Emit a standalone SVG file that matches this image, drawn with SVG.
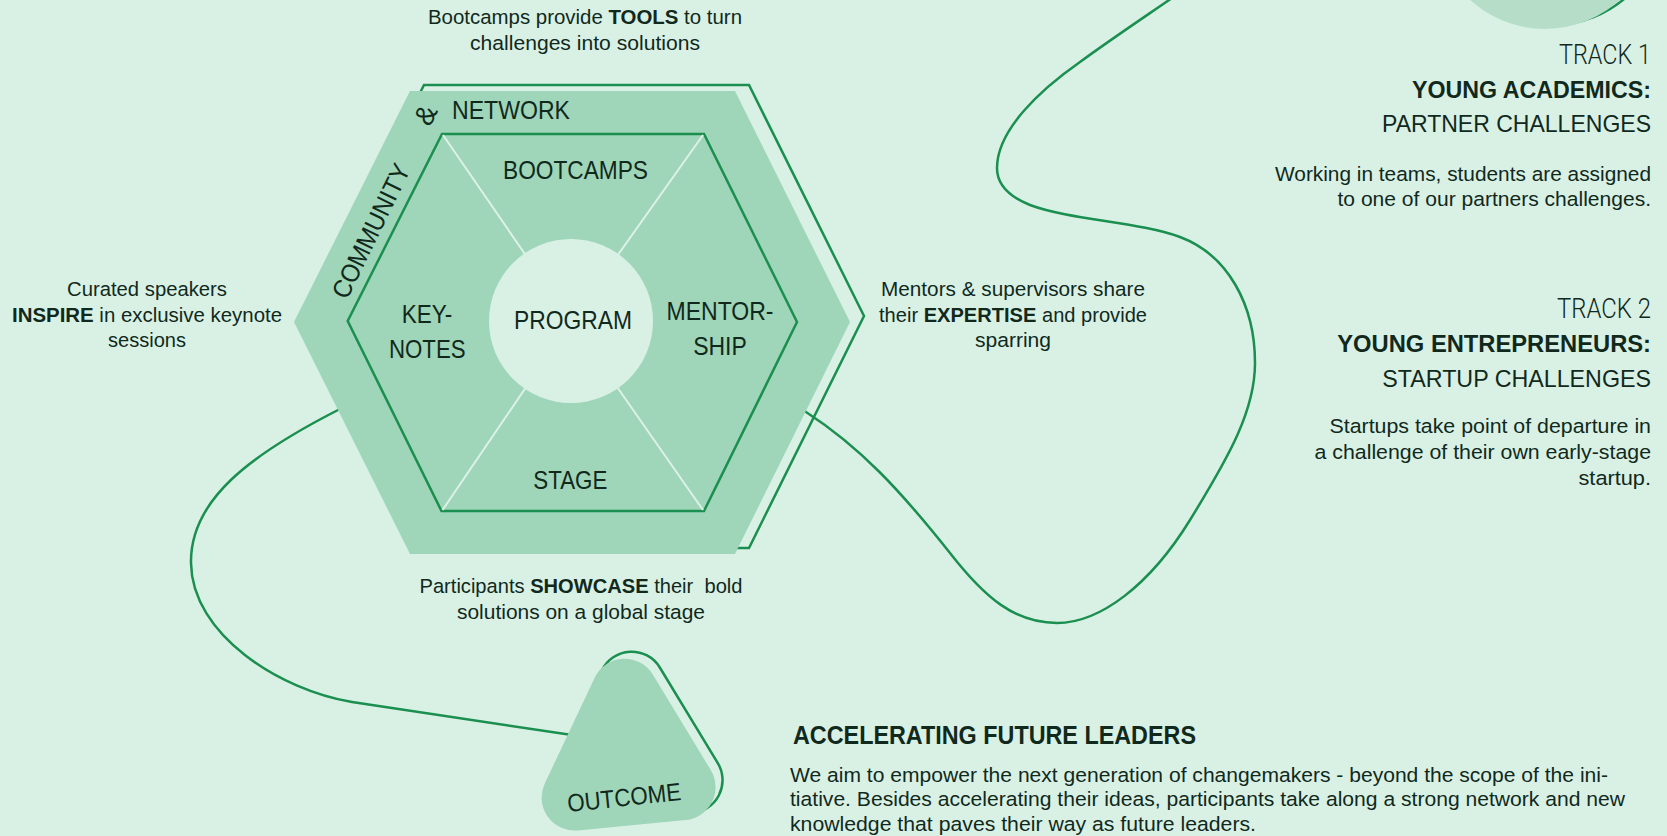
<svg xmlns="http://www.w3.org/2000/svg" width="1667" height="836" viewBox="0 0 1667 836">
<style>
.t{font-family:"Liberation Sans",Arial,sans-serif;fill:#10291c}
.s{font-size:20.5px}
.h{font-size:26px}
.k{font-size:24px}
.bd{font-weight:700}
.lt{font-family:Roboto,"Liberation Sans",Arial,sans-serif;font-weight:300}
.line{fill:none;stroke:#1a8f4f;stroke-width:2.5}
.fillg{fill:#9fd5b8}
.spoke{stroke:#dcf2e6;stroke-width:2}
</style>
<rect x="0" y="0" width="1667" height="836" fill="#d9f1e5"/>

<g id="connectors">
<path class="line" d="M346,405 L338,410 C250,455 190,500 191,563 C192,635 280,690 352,702 L572,735"/>
<path class="line" d="M794,402 L806,412 C860,447 900,490 950,553 C985,598 1015,623 1057,623 C1100,623 1150,585 1190,520 C1230,455 1255,410 1255,363 C1255,305 1228,255 1180,237 C1140,222 1070,220 1030,205 C1005,195 997,182 997,168 C997,130 1040,90 1080,62 C1110,40 1140,20 1172,-2"/>
</g>

<g id="track-circle">
<circle class="line" cx="1552" cy="-88" r="113"/>
<circle cx="1545" cy="-82" r="111" fill="#b5ddc8"/>
</g>

<g id="hexagon-community">
<polygon class="line" points="424,85 749,85 864,316 749,548 424,548 308,316"/>
<polygon class="fillg" points="410,91 735,91 850,322 735,554 410,554 294,322"/>
<text class="t h" text-anchor="middle" transform="translate(379,235) rotate(-64)" textLength="146" lengthAdjust="spacingAndGlyphs">COMMUNITY</text>
<text class="t" font-size="28" text-anchor="middle" transform="translate(434,119) rotate(-64)">&amp;</text>
<text class="t h" x="511" y="119.3" text-anchor="middle" textLength="118" lengthAdjust="spacingAndGlyphs">NETWORK</text>
</g>

<g id="hexagon-program">
<polygon class="fillg" points="442,134 704,134 797,322 704,511 441.5,511 347.7,321" stroke="#1a8f4f" stroke-width="2.5"/>
<line class="spoke" x1="443" y1="135" x2="571" y2="321"/>
<line class="spoke" x1="703" y1="135" x2="571" y2="321"/>
<line class="spoke" x1="442.5" y1="510" x2="571" y2="321"/>
<line class="spoke" x1="703" y1="510" x2="571" y2="321"/>
<text class="t h" x="575.5" y="179.3" text-anchor="middle" textLength="145" lengthAdjust="spacingAndGlyphs">BOOTCAMPS</text>
<text class="t h" x="427" y="323.3" text-anchor="middle" textLength="50.5" lengthAdjust="spacingAndGlyphs">KEY-</text>
<text class="t h" x="427.3" y="358.3" text-anchor="middle" textLength="76.6" lengthAdjust="spacingAndGlyphs">NOTES</text>
<text class="t h" x="720" y="320" text-anchor="middle" textLength="107" lengthAdjust="spacingAndGlyphs">MENTOR-</text>
<text class="t h" x="720" y="355" text-anchor="middle" textLength="53.6" lengthAdjust="spacingAndGlyphs">SHIP</text>
<text class="t h" x="570.3" y="489" text-anchor="middle" textLength="74" lengthAdjust="spacingAndGlyphs">STAGE</text>
</g>

<g id="program-core">
<circle cx="571" cy="321" r="82" fill="#d9f1e5"/>
<text class="t h" x="573" y="329.3" text-anchor="middle" textLength="118" lengthAdjust="spacingAndGlyphs">PROGRAM</text>
</g>

<g id="outcome">
<path class="line" transform="translate(7,-7)" d="M652.8,674.5 L710.8,770.1 A33,33 0 0 1 685.7,820 L577.8,830.4 A33,33 0 0 1 544.8,783.4 L594.8,677.5 A33,33 0 0 1 652.8,674.5 Z"/>
<path class="fillg" d="M652.8,674.5 L710.8,770.1 A33,33 0 0 1 685.7,820 L577.8,830.4 A33,33 0 0 1 544.8,783.4 L594.8,677.5 A33,33 0 0 1 652.8,674.5 Z"/>
<text class="t" font-size="25" text-anchor="middle" transform="translate(625,806) rotate(-6)" textLength="114" lengthAdjust="spacingAndGlyphs">OUTCOME</text>
</g>

<g id="label-tools">
<text class="t s" x="585" y="24" text-anchor="middle" textLength="314" lengthAdjust="spacingAndGlyphs">Bootcamps provide <tspan class="bd">TOOLS</tspan> to turn</text>
<text class="t s" x="585" y="49.5" text-anchor="middle" textLength="230" lengthAdjust="spacingAndGlyphs">challenges into solutions</text>
</g>

<g id="label-inspire">
<text class="t s" x="147" y="296" text-anchor="middle" textLength="160" lengthAdjust="spacingAndGlyphs">Curated speakers</text>
<text class="t s" x="147" y="321.5" text-anchor="middle" textLength="270" lengthAdjust="spacingAndGlyphs"><tspan class="bd">INSPIRE</tspan> in exclusive keynote</text>
<text class="t s" x="147" y="347" text-anchor="middle" textLength="78" lengthAdjust="spacingAndGlyphs">sessions</text>
</g>

<g id="label-expertise">
<text class="t s" x="1013" y="296" text-anchor="middle" textLength="264" lengthAdjust="spacingAndGlyphs">Mentors &amp; supervisors share</text>
<text class="t s" x="1013" y="321.5" text-anchor="middle" textLength="268" lengthAdjust="spacingAndGlyphs">their <tspan class="bd">EXPERTISE</tspan> and provide</text>
<text class="t s" x="1013" y="347" text-anchor="middle" textLength="76" lengthAdjust="spacingAndGlyphs">sparring</text>
</g>

<g id="label-showcase">
<text class="t s" x="581" y="593" text-anchor="middle" textLength="323" lengthAdjust="spacingAndGlyphs" xml:space="preserve">Participants <tspan class="bd">SHOWCASE</tspan> their  bold</text>
<text class="t s" x="581" y="619" text-anchor="middle" textLength="248" lengthAdjust="spacingAndGlyphs">solutions on a global stage</text>
</g>

<g id="track1">
<text class="t lt" font-size="28" x="1651" y="64" text-anchor="end" textLength="92" lengthAdjust="spacingAndGlyphs">TRACK 1</text>
<text class="t k bd" x="1651" y="98.3" text-anchor="end" textLength="239" lengthAdjust="spacingAndGlyphs">YOUNG ACADEMICS:</text>
<text class="t k" x="1651" y="132.3" text-anchor="end" textLength="269" lengthAdjust="spacingAndGlyphs">PARTNER CHALLENGES</text>
<text class="t s" x="1651" y="180.7" text-anchor="end" textLength="376" lengthAdjust="spacingAndGlyphs">Working in teams, students are assigned</text>
<text class="t s" x="1651" y="205.7" text-anchor="end" textLength="313.5" lengthAdjust="spacingAndGlyphs">to one of our partners challenges.</text>
</g>

<g id="track2">
<text class="t lt" font-size="28" x="1651" y="318.3" text-anchor="end" textLength="94" lengthAdjust="spacingAndGlyphs">TRACK 2</text>
<text class="t k bd" x="1651" y="352.3" text-anchor="end" textLength="313.7" lengthAdjust="spacingAndGlyphs">YOUNG ENTREPRENEURS:</text>
<text class="t k" x="1651" y="386.7" text-anchor="end" textLength="268.7" lengthAdjust="spacingAndGlyphs">STARTUP CHALLENGES</text>
<text class="t s" x="1651" y="433.3" text-anchor="end" textLength="321.5" lengthAdjust="spacingAndGlyphs">Startups take point of departure in</text>
<text class="t s" x="1651" y="459.3" text-anchor="end" textLength="336.5" lengthAdjust="spacingAndGlyphs">a challenge of their own early-stage</text>
<text class="t s" x="1651" y="485" text-anchor="end" textLength="72.5" lengthAdjust="spacingAndGlyphs">startup.</text>
</g>

<g id="accelerating">
<text class="t bd" font-size="25" x="793" y="744" textLength="403" lengthAdjust="spacingAndGlyphs">ACCELERATING FUTURE LEADERS</text>
<text class="t s" x="790" y="781.5" textLength="818" lengthAdjust="spacingAndGlyphs">We aim to empower the next generation of changemakers - beyond the scope of the ini-</text>
<text class="t s" x="790" y="806" textLength="835" lengthAdjust="spacingAndGlyphs">tiative. Besides accelerating their ideas, participants take along a strong network and new</text>
<text class="t s" x="790" y="830.5" textLength="466" lengthAdjust="spacingAndGlyphs">knowledge that paves their way as future leaders.</text>
</g>
</svg>
